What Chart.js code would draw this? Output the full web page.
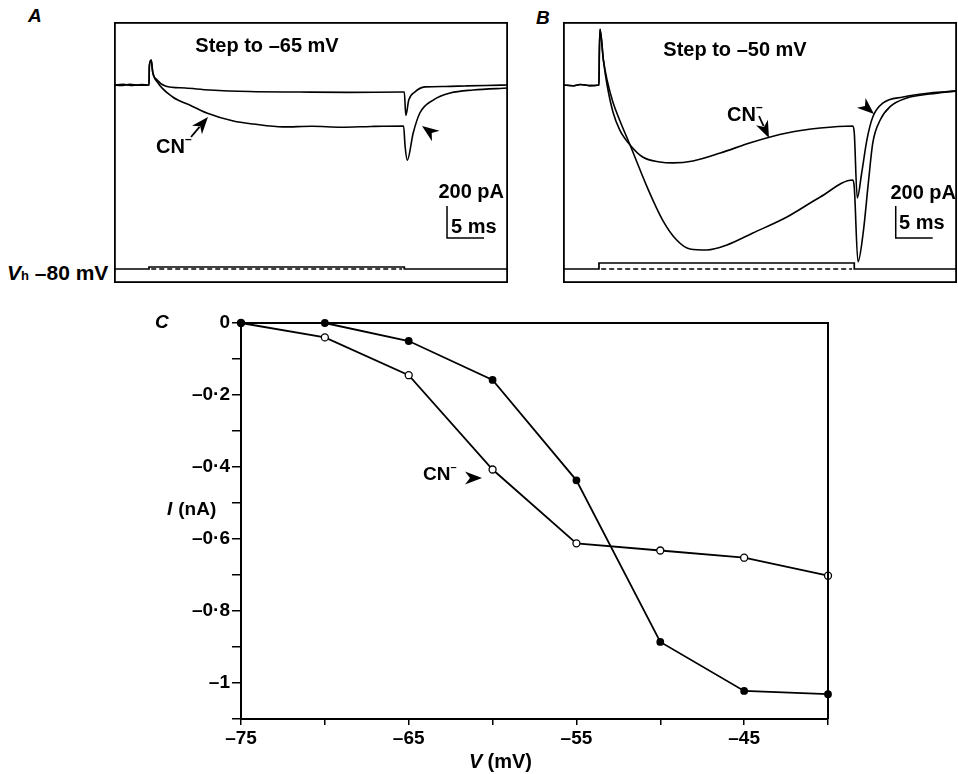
<!DOCTYPE html>
<html>
<head>
<meta charset="utf-8">
<script src="https://cdn.jsdelivr.net/npm/chart.js@4.4.1/dist/chart.umd.min.js"></script>
<style>
  body { margin: 0; background: #fff; }
  #wrap { position: relative; width: 958px; height: 774px; font-family: 'Liberation Sans', Arial, sans-serif; }
  canvas { position: absolute; }
  .lbl { position: absolute; font-weight: bold; color: #000; white-space: nowrap; line-height: 1; }
</style>
</head>
<body>
<div id="wrap">
  <canvas id="chartA" width="394" height="261" style="left:114px;top:22px"></canvas>
  <canvas id="chartB" width="394" height="261" style="left:563px;top:22px"></canvas>
  <canvas id="chartC" width="958" height="474" style="left:0;top:300px"></canvas>
  <div class="lbl" style="left:28px;top:6px;font-size:19px;font-style:italic">A</div>
  <div class="lbl" style="left:536px;top:8px;font-size:19px;font-style:italic">B</div>
  <div class="lbl" style="left:7px;top:262px;font-size:21px"><i>V</i><span style="font-size:13px">h</span> –80 mV</div>
</div>
<script>
// ---- panel A : step to -65 mV (time in ms from step onset, current in pA)
const tA_ctrl = [-4.73, -3.5, -2.2, -1, 0, 0.05, 0.3, 0.5, 1.1, 2.2, 4.9, 8.2, 13.6, 20.3, 27, 34.4, 34.5, 34.7, 35.1, 35.9, 37.3, 40, 42.7, 45.5, 48.51];
const iA_ctrl = [0, 4, -3, 3, 0, 120, 156, 81, 31, -6, -19, -31, -41, -44, -46, -44, -44, -190, -94, -44, -12, -9, -6, -3, 0];
const tA_cn = [-4.73, -3.8, -2.6, -1.4, 0, 0.05, 0.3, 0.5, 1.1, 3.2, 5.5, 7.8, 11.4, 14.1, 18.1, 22, 26, 30, 34.4, 34.6, 34.9, 35.7, 36.6, 38.4, 40.7, 43.8, 48.51];
const iA_cn = [0, -3, 4, -2, 0, 120, 156, 81, 20, -75, -125, -175, -225, -244, -262, -258, -264, -259, -256, -380, -470, -300, -175, -94, -50, -31, -19];

// ---- panel B : step to -50 mV
const tB_ctrl = [-4.86, -3.6, -2.5, -1.2, 0, 0.05, 0.14, 0.6, 1.1, 1.9, 2.8, 4.2, 6.5, 8.6, 10.5, 12.3, 14.6, 17.3, 20.8, 25.4, 29.9, 34.3, 34.5, 35.0, 35.7, 36.4, 37.0, 38.0, 39.3, 41.6, 44.7, 48.38];
const iB_ctrl = [0, -5, 3, -4, 0, 200, 348, 156, 30, -110, -220, -375, -637, -844, -969, -1025, -1031, -1000, -925, -825, -700, -594, -640, -1106, -925, -612, -362, -219, -137, -81, -56, -37];
const tB_cn = [-4.86, -3.6, -2.5, -1.2, 0, 0.05, 0.14, 0.6, 1.1, 1.9, 2.8, 4.2, 5.9, 8.2, 10, 12.7, 16.4, 20.8, 25.4, 29.9, 34.3, 34.5, 34.9, 35.5, 36.2, 37.0, 38.4, 41.1, 44.7, 48.38];
const iB_cn = [0, -5, 3, -4, 0, 200, 348, 156, 0, -170, -280, -375, -450, -481, -487, -475, -425, -356, -300, -269, -256, -300, -706, -550, -344, -200, -112, -75, -50, -37];

// voltage protocol (mV) and scale bars (5 ms, 200 pA)
const protT = [-4.9, 0, 0, 34.5, 34.5, 48.6];
const protA = [-80, -80, -65, -65, -80, -80];
const protB = [-80, -80, -50, -50, -80, -80];
const dashT = [0.3, 34.2];
const dashV = [-80, -80];
const barA_t = [40.27, 40.27, 45.27];
const barB_t = [40.1, 40.1, 45.1];
const bar_i = [-756, -956, -956];

// ---- panel C : I-V relation
const vSteps = [-75, -70, -65, -60, -55, -50, -45, -40];
const iControl = [0, 0, -0.05, -0.158, -0.437, -0.886, -1.022, -1.031];
const iCN = [0, -0.04, -0.145, -0.407, -0.612, -0.632, -0.652, -0.702];

const FONT = "'Liberation Sans', Arial, sans-serif";
Chart.defaults.font.family = FONT;
Chart.defaults.color = '#000';

const pts = (xs, ys) => xs.map((x, i) => ({ x, y: ys[i] }));

function drawArrow(ctx, x1, y1, x2, y2, tail) {
	const a = Math.atan2(y2 - y1, x2 - x1);
	const len = 17, hw = 6.5;
	ctx.save();
	ctx.translate(x2, y2);
	ctx.rotate(a);
	if (tail) {
		const d = Math.hypot(x2 - x1, y2 - y1);
		ctx.beginPath();
		ctx.moveTo(-d, 0);
		ctx.lineTo(-len + 4, 0);
		ctx.lineWidth = 1.8;
		ctx.stroke();
	}
	ctx.beginPath();
	ctx.moveTo(0, 0);
	ctx.lineTo(-len, -hw);
	ctx.lineTo(-len + 5, 0);
	ctx.lineTo(-len, hw);
	ctx.closePath();
	ctx.fill();
	ctx.restore();
}

function drawCN(ctx, x, y, size) {
	ctx.font = 'bold ' + size + 'px ' + FONT;
	ctx.textAlign = 'left';
	ctx.textBaseline = 'middle';
	ctx.fillText('CN', x, y);
	const w = ctx.measureText('CN').width;
	ctx.font = 'bold ' + Math.round(size * 0.6) + 'px ' + FONT;
	ctx.fillText('–', x + w, y - size * 0.38);
}

function tracePanel(id, traces, prot, barT, xmin, xmax, vmin, vmax, notes) {
	const datasets = traces.map((tr) => ({
		data: pts(tr[0], tr[1]),
		borderColor: '#000',
		borderWidth: 1.6,
		pointRadius: 0,
		cubicInterpolationMode: 'monotone',
	}));
	datasets.push({ data: pts(protT, prot), yAxisID: 'yv', borderColor: '#000', borderWidth: 1.7, pointRadius: 0, tension: 0 });
	datasets.push({ data: pts(dashT, dashV), yAxisID: 'yv', borderColor: '#000', borderWidth: 1.3, borderDash: [5, 3], pointRadius: 0 });
	datasets.push({ data: pts(barT, bar_i), borderColor: '#000', borderWidth: 1.5, pointRadius: 0, tension: 0 });

	return new Chart(document.getElementById(id), {
		type: 'line',
		data: { datasets },
		options: {
			responsive: false,
			animation: false,
			events: [],
			layout: { padding: 0 },
			plugins: { legend: { display: false }, tooltip: { enabled: false } },
			scales: {
				x: { type: 'linear', min: xmin, max: xmax, display: false },
				y: { min: -1237.5, max: 393.75, display: false },
				yv: { min: vmin, max: vmax, display: false },
			},
		},
		plugins: [{
			id: 'notes',
			afterDraw(chart) {
				const ctx = chart.ctx;
				const w = chart.width, h = chart.height;
				ctx.save();
				ctx.strokeStyle = '#000';
				ctx.fillStyle = '#000';
				ctx.lineWidth = 1.8;
				ctx.strokeRect(0.9, 0.9, w - 1.8, h - 1.8);
				ctx.font = 'bold 20px ' + FONT;
				ctx.textBaseline = 'middle';
				ctx.textAlign = 'center';
				ctx.fillText(notes.title, notes.titleX, notes.titleY);
				ctx.textAlign = 'right';
				ctx.fillText('200 pA', notes.paX, notes.paY);
				ctx.textAlign = 'left';
				ctx.fillText('5 ms', notes.msX, notes.msY);
				drawCN(ctx, notes.cnX, notes.cnY, 20);
				notes.arrows.forEach((a) => drawArrow(ctx, a[0], a[1], a[2], a[3], a[4]));
				ctx.restore();
			},
		}],
	});
}

tracePanel('chartA', [[tA_ctrl, iA_ctrl], [tA_cn, iA_cn]], protA, barA_t, -4.73, 48.51, -185, 1772.5, {
	title: 'Step to –65 mV', titleX: 153, titleY: 24,
	paX: 390, paY: 170, msX: 337, msY: 205,
	cnX: 42, cnY: 125,
	arrows: [[77, 115, 94, 95, true], [326, 117, 308, 104, false]],
});

tracePanel('chartB', [[tB_ctrl, iB_ctrl], [tB_cn, iB_cn]], protB, barB_t, -4.86, 48.38, -150, 1155, {
	title: 'Step to –50 mV', titleX: 172, titleY: 28,
	paX: 393, paY: 171, msX: 336, msY: 201,
	cnX: 164, cnY: 93,
	arrows: [[196, 94, 206, 116, true], [294, 77, 311, 92, false]],
});

// ---- panel C
new Chart(document.getElementById('chartC'), {
	type: 'scatter',
	data: {
		datasets: [
			{
				data: pts(vSteps, iControl),
				showLine: true,
				borderColor: '#000',
				borderWidth: 1.8,
				pointRadius: 3,
				pointBackgroundColor: '#000',
				pointBorderColor: '#000',
				clip: false,
			},
			{
				data: pts(vSteps, iCN),
				showLine: true,
				borderColor: '#000',
				borderWidth: 1.8,
				pointRadius: 3.5,
				pointBackgroundColor: '#fff',
				pointBorderColor: '#000',
				pointBorderWidth: 1.3,
				clip: false,
			},
		],
	},
	options: {
		responsive: false,
		animation: false,
		events: [],
		layout: { padding: { top: 23, right: 130, left: 0, bottom: 0 } },
		plugins: { legend: { display: false }, tooltip: { enabled: false } },
		scales: {
			x: {
				type: 'linear',
				min: -75,
				max: -40,
				afterFit: (s) => { s.height = 55; },
				border: { display: true, color: '#000', width: 2 },
				grid: { drawOnChartArea: false, drawTicks: true, tickLength: 6, color: '#000', lineWidth: 1.5 },
				ticks: {
					stepSize: 5,
					padding: 2,
					maxRotation: 0,
					font: { size: 19, weight: 'bold' },
					callback: (v) => ((v + 75) % 10 === 0 ? '–' + Math.abs(v) : ''),
				},
			},
			y: {
				min: -1.1,
				max: 0,
				afterFit: (s) => { s.width = 241; },
				border: { display: true, color: '#000', width: 2 },
				grid: { drawOnChartArea: false, drawTicks: true, tickLength: 9, color: '#000', lineWidth: 1.5 },
				ticks: {
					stepSize: 0.1,
					padding: 2,
					font: { size: 19, weight: 'bold' },
					callback: (v) => {
						const k = Math.round(v * 10);
						if (k % 2 !== 0) return '';
						if (k === 0) return '0';
						if (k === -10) return '–1';
						return '–0·' + (-k);
					},
				},
			},
		},
	},
	plugins: [{
		id: 'frameC',
		afterDraw(chart) {
			const ctx = chart.ctx;
			const a = chart.chartArea;
			ctx.save();
			ctx.strokeStyle = '#000';
			ctx.fillStyle = '#000';
			ctx.lineWidth = 2;
			ctx.beginPath();
			ctx.moveTo(a.left, a.top);
			ctx.lineTo(a.right, a.top);
			ctx.lineTo(a.right, a.bottom);
			ctx.stroke();
			ctx.textBaseline = 'middle';
			ctx.textAlign = 'left';
			ctx.font = 'italic bold 19px ' + FONT;
			ctx.fillText('C', 155, 23);
			// y title
			ctx.font = 'italic bold 19px ' + FONT;
			ctx.fillText('I', 167, 210);
			ctx.font = 'bold 19px ' + FONT;
			ctx.fillText(' (nA)', 173, 210);
			// x title
			ctx.font = 'italic bold 20px ' + FONT;
			ctx.fillText('V', 469, 462);
			ctx.font = 'bold 20px ' + FONT;
			ctx.fillText(' (mV)', 482, 462);
			drawCN(ctx, 423, 175, 19);
			drawArrow(ctx, 460, 178, 482, 178, false);
			ctx.restore();
		},
	}],
});
</script>
</body>
</html>
